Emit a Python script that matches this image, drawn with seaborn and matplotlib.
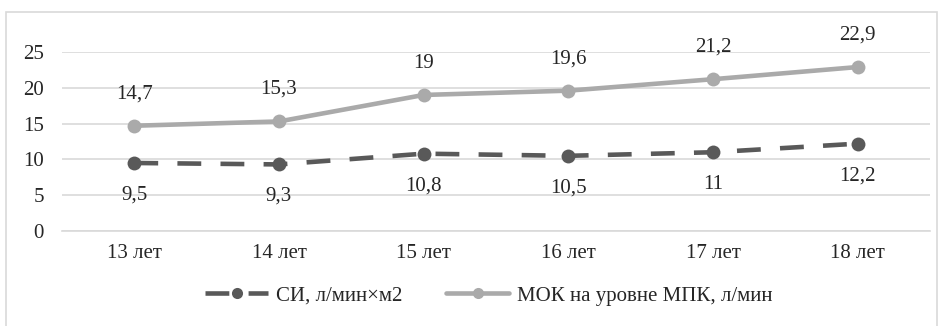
import pandas as pd
import seaborn as sns
import matplotlib.pyplot as plt
from matplotlib.patches import Rectangle

ages = ["13 лет", "14 лет", "15 лет", "16 лет", "17 лет", "18 лет"]
si_values = [9.5, 9.3, 10.8, 10.5, 11, 12.2]
mok_values = [14.7, 15.3, 19, 19.6, 21.2, 22.9]
si_name = "СИ, л/мин×м2"
mok_name = "МОК на уровне МПК, л/мин"

df = pd.DataFrame({"Возраст": ages, "СИ": si_values, "МОК": mok_values})

sns.set_style("white")
plt.rcParams['font.family'] = ['Liberation Serif', 'DejaVu Serif']
plt.rcParams['font.size'] = 15

fig = plt.figure(figsize=(9.42, 3.26), dpi=100)
ax = fig.add_axes([62 / 942, 1 - 231 / 326, (930 - 62) / 942, (231 - 52) / 326])

# chart border
fig.patches.append(Rectangle((6 / 942, -0.01), 931 / 942, 1 - 12 / 326 + 0.01,
                             transform=fig.transFigure, fill=False,
                             edgecolor="#d9d9d9", linewidth=1.2))

x = list(range(len(ages)))
sns.lineplot(x=x, y=df["СИ"], ax=ax, color="#595959", linewidth=3.3,
             marker="o", markersize=10, markeredgewidth=0, label=si_name)
ax.lines[-1].set_dashes((5.2, 4.2))
ax.lines[-1].set_dash_capstyle("butt")
sns.lineplot(x=x, y=df["МОК"], ax=ax, color="#aaaaaa", linewidth=3.3,
             marker="o", markersize=10, markeredgewidth=0, label=mok_name)

fmt = lambda v: f"{v:g}".replace(".", ",")
for i, v in enumerate(mok_values):
    ax.annotate(fmt(v), (i, v), xytext=(0, 23), textcoords="offset points",
                ha="center", va="center", color="#262626")
for i, v in enumerate(si_values):
    ax.annotate(fmt(v), (i, v), xytext=(0, -23), textcoords="offset points",
                ha="center", va="center", color="#262626")

ax.set_xlim(-0.5, 5.5)
ax.set_ylim(0, 25)
ax.set_yticks([0, 5, 10, 15, 20, 25])
ax.set_xticks(x)
ax.set_xticklabels(ages)
ax.yaxis.grid(True, color="#d9d9d9", linewidth=1.2)
ax.set_axisbelow(True)
for s in ax.spines.values():
    s.set_visible(False)
ax.spines["bottom"].set_visible(True)
ax.spines["bottom"].set_color("#d9d9d9")
ax.spines["bottom"].set_linewidth(1.2)
ax.tick_params(axis="both", length=0, colors="#262626", labelsize=15)
ax.tick_params(axis="x", pad=9)
ax.tick_params(axis="y", pad=13)
ax.set_xlabel("")
ax.set_ylabel("")

leg = ax.legend(loc="center", bbox_to_anchor=(489 / 942, 1 - 296 / 326),
                bbox_transform=fig.transFigure, ncol=2, frameon=False,
                handlelength=3.0, handletextpad=0.4, columnspacing=2.1,
                fontsize=15, markerscale=0.8)

fig.savefig("out.png", dpi=100)
